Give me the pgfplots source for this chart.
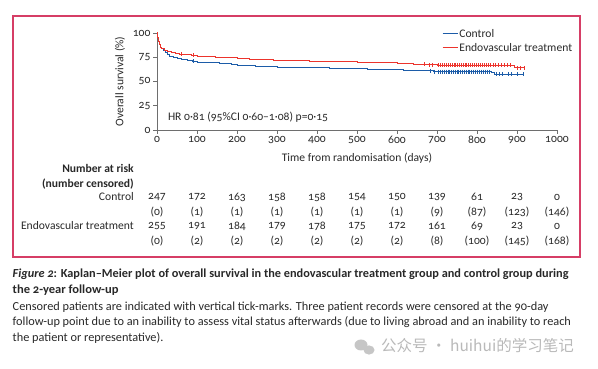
\documentclass[border=0pt]{standalone}
\usepackage{fontspec}
\setmainfont{Carlito}[Numbers=OldStyle]
\newfontfamily\cjk{Noto Sans CJK SC}
\usepackage{pgfplots}
\pgfplotsset{compat=1.18}
\usepackage{pgfplotstable}
\definecolor{ctrl}{RGB}{28,92,168}
\definecolor{endo}{RGB}{236,52,44}
\definecolor{frame}{RGB}{214,62,102}
\definecolor{axgray}{RGB}{110,110,110}
\definecolor{txt}{RGB}{40,40,40}
\newcommand\fs{\fontsize{11.6}{14}\selectfont}
\newcommand\cs{\fontsize{12.3}{15}\selectfont}

\pgfplotstableread{
t S
0 100
2 95
4 91
6 88
9 85
12 83.5
16 82
20 79.5
25 77.5
32 76
40 74.5
50 73.3
60 72.5
75 71.5
88 70.7
100 70
115 69.6
135 69.2
155 68.8
170 68.2
185 67.4
200 66.6
220 66.2
245 65.6
270 65.0
300 64.5
430 63.9
475 63.3
525 62.7
565 62.1
615 61.4
650 60.9
690 60.2
837 58.9
843 57.6
915 57.6
}\ctrl

\pgfplotstableread{
t S
0 100
2 95
4 91
6 88
9 85.5
12 83.5
18 82
25 81
35 80
45 79
57 78
70 77.5
85 77
100 76
120 75.5
145 75
170 74.3
200 73.5
230 72.8
260 72.2
290 71.7
330 71.2
380 70.8
440 70.3
500 69.7
550 69.1
600 68.5
640 67.9
675 67.2
700 66.8
893 64.0
920 64.0
}\endo

\pgfplotstableread{
t S
90 70.7
683 60.9
694 60.2
702 60.2
707 60.2
712 60.2
718 60.2
722 60.2
727 60.2
731 60.2
736 60.2
741 60.2
745 60.2
750 60.2
754 60.2
759 60.2
763 60.2
768 60.2
772 60.2
777 60.2
781 60.2
786 60.2
790 60.2
795 60.2
800 60.2
805 60.2
810 60.2
815 60.2
820 60.2
826 60.2
831 60.2
848 57.6
855 57.6
862 57.6
878 57.6
886 57.6
900 57.6
915 57.6
}\ctrlcens

\pgfplotstableread{
t S
60 78
90 77
668 67.9
680 67.2
688 67.2
703 66.8
708 66.8
713 66.8
718 66.8
723 66.8
727 66.8
732 66.8
737 66.8
742 66.8
746 66.8
751 66.8
756 66.8
760 66.8
765 66.8
770 66.8
774 66.8
779 66.8
784 66.8
789 66.8
793 66.8
798 66.8
803 66.8
808 66.8
813 66.8
818 66.8
823 66.8
828 66.8
834 66.8
840 66.8
846 66.8
852 66.8
860 66.8
868 66.8
876 66.8
884 66.8
900 64.0
908 64.0
918 64.0
}\endocens

\begin{document}
\begin{tikzpicture}
\path[use as bounding box] (0pt,0pt) rectangle (598pt,369pt);
\draw[frame, line width=1.1pt] (13pt,353pt) rectangle (580pt,112pt);
\begin{axis}[
  at={(157pt,239pt)}, anchor=south west,
  scale only axis, width=400pt, height=97pt,
  xmin=0, xmax=1000, ymin=0, ymax=100,
  axis x line*=bottom, axis y line*=left,
  axis line style={axgray, line width=0.8pt, -},
  xtick={0,100,...,1000}, ytick={0,25,50,75,100},
  tick style={axgray, line width=0.8pt},
  tick align=outside, major tick length=4pt,
  tick label style={font=\fs, text=txt},
  /pgf/number format/assume math mode=true,
  /pgf/number format/set thousands separator={},
  xticklabel style={yshift=1.5pt},
  yticklabel style={xshift=1pt},
  xlabel={Time from randomisation (days)},
  ylabel={Overall survival (\%)},
  label style={font=\fs, text=txt},
  xlabel style={yshift=-3pt},
  ylabel style={yshift=1pt},
  clip=false,
  legend style={draw=none, fill=none, at={(axis description cs:0.7125,1.055)}, anchor=north west,
    font=\fs, text=txt, row sep=2pt, inner sep=0pt,
    nodes={inner sep=1.2pt}},
  legend cell align=left,
  legend image code/.code={\draw[#1, line width=1pt] (0pt,0pt) -- (15pt,0pt);},
]
\addplot[const plot, ctrl, line width=1pt] table[x=t,y=S]{\ctrl};
\addlegendentry{Control}
\addplot[const plot, endo, line width=1pt] table[x=t,y=S]{\endo};
\addlegendentry{Endovascular treatment}
\addplot[only marks, mark=|, mark size=2pt, ctrl, mark options={line width=0.6pt}, forget plot] table[x=t,y=S]{\ctrlcens};
\addplot[only marks, mark=|, mark size=2pt, endo, mark options={line width=0.6pt}, forget plot] table[x=t,y=S]{\endocens};
\node[anchor=west, font=\fs, text=txt, inner sep=0pt] at (axis cs:27,13.4) {HR 0·81 (95\%CI 0·60–1·08) p=0·15};
\end{axis}
\begin{scope}[x=1pt,y=1pt]
% number at risk table
\begin{scope}[every node/.style={font=\fs, text=txt, inner sep=0pt}]
\node[anchor=east, font=\fs\bfseries] at (134,201) {Number at risk};
\node[anchor=east, font=\fs\bfseries] at (134,185) {(number censored)};
\node[anchor=east] at (134,172) {Control};
\node[anchor=east] at (134,143) {Endovascular treatment};
\foreach \v [count=\i from 0] in {247,172,163,158,158,154,150,139,61,23,0}
  \node at (157+40*\i,172) {\v};
\foreach \v [count=\i from 0] in {0,1,1,1,1,1,1,9,87,123,146}
  \node at (157+40*\i,157) {(\v)};
\foreach \v [count=\i from 0] in {255,191,184,179,178,175,172,161,69,23,0}
  \node at (157+40*\i,143) {\v};
\foreach \v [count=\i from 0] in {0,2,2,2,2,2,2,8,100,145,168}
  \node at (157+40*\i,128) {(\v)};
\end{scope}
% caption
\begin{scope}[every node/.style={anchor=base west, inner sep=0pt, text=txt, font=\cs}]
\node at (12.5,91) {\bfseries\itshape Figure 2\upshape: Kaplan–Meier plot of overall survival in the endovascular treatment group and control group during};
\node[xscale=1.02] at (12.5,75.5) {\bfseries the 2-year follow-up};
\node at (12.5,58.8) {Censored patients are indicated with vertical tick-marks. Three patient records were censored at the 90-day};
\node at (12.5,43.2) {follow-up point due to an inability to assess vital status afterwards (due to living abroad and an inability to reach};
\node at (12.5,27.8) {the patient or representative).};
\end{scope}
% watermark
\fill[gray!45] (361,24) ellipse (6.5 and 5.5);
\fill[gray!45] (369,19) ellipse (5.5 and 4.6);
\node[anchor=base west, inner sep=0pt, text=gray!55, font=\cjk\fontsize{15.5}{17}\selectfont] at (381,17) {公众号 · huihui的学习笔记};
\end{scope}
\end{tikzpicture}
\end{document}
